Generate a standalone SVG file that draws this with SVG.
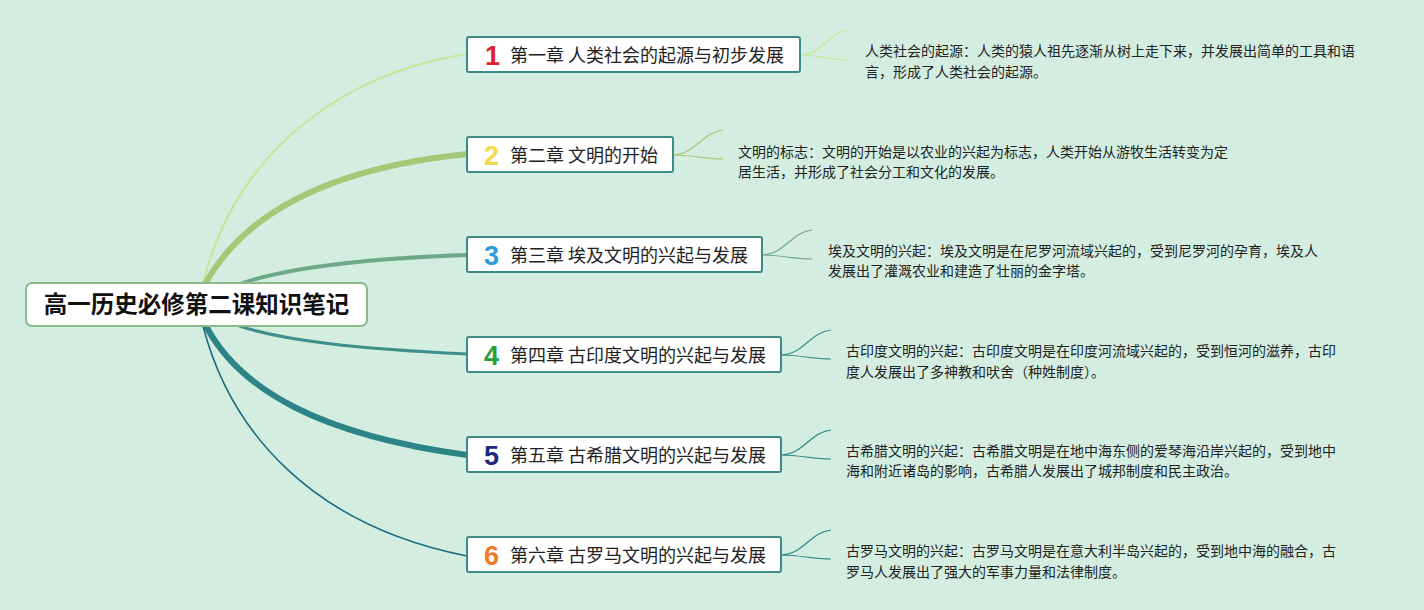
<svg xmlns="http://www.w3.org/2000/svg" width="1424" height="610" viewBox="0 0 1424 610">
<defs>
<style>
.bg{fill:#d3eee0}
.root{fill:#ffffff;stroke:#8cb98a;stroke-width:2}
.rt{font-family:"Noto Sans CJK SC","Liberation Sans",sans-serif;font-size:23.5px;font-weight:bold;fill:#111}
.box{fill:#ffffff;stroke:#3d8b89;stroke-width:2}
.num{font-family:"Liberation Sans","DejaVu Sans",sans-serif;font-size:27px;font-weight:900}
.ct{font-family:"Noto Sans CJK SC",sans-serif;font-size:18px;fill:#222}
.nt{font-family:"Noto Sans CJK SC",sans-serif;font-size:14px;fill:#222}
.br{fill:none}
</style>
</defs>
<rect class="bg" x="0" y="0" width="1424" height="610"/>
<g id="connectors">
<path class="br" d="M203,283 C238,145 350,72 467,54" stroke="#c6e69c" stroke-width="2.2"/>
<path class="br" d="M205,284 C245,212 330,168 467,154" stroke="#a2c878" stroke-width="6"/>
<path class="br" d="M215,295 C265,266 380,258 467,255" stroke="#6ea889" stroke-width="4"/>
<path class="br" d="M215,316 C262,342 380,350 467,354" stroke="#3e8e8c" stroke-width="3"/>
<path class="br" d="M206,326 C240,390 320,435 467,455" stroke="#2d8487" stroke-width="6"/>
<path class="br" d="M203,326 C230,430 310,525 467,556" stroke="#1d6d80" stroke-width="1.6"/>
<path class="br" d="M800,55 C822,55 828,32 849,30 M800,55 C820,55 830,60 849,60" stroke="#c6e69c" stroke-width="1.2"/>
<path class="br" d="M673,155 C695,155 702,132 723,130 M673,155 C693,155 703,159 723,159" stroke="#a2c878" stroke-width="1.2"/>
<path class="br" d="M762,255 C784,255 791,232 812,230 M762,255 C782,255 792,259 812,259" stroke="#6ea889" stroke-width="1.2"/>
<path class="br" d="M781,355 C803,355 810,332 831,330 M781,355 C801,355 811,359 831,359" stroke="#3e8e8c" stroke-width="1.2"/>
<path class="br" d="M781,455 C803,455 810,432 831,430 M781,455 C801,455 811,459 831,459" stroke="#2d8487" stroke-width="1.2"/>
<path class="br" d="M781,555 C803,555 810,532 831,530 M781,555 C801,555 811,559 831,559" stroke="#2d8487" stroke-width="1.2"/>
</g>
<g id="root">
<rect class="root" x="26" y="283" width="341" height="43" rx="6"/>
<text class="rt" x="196.5" y="313" text-anchor="middle">高一历史必修第二课知识笔记</text>
</g>
<g id="ch1">
<rect class="box" x="467" y="37" width="333" height="35" rx="2"/>
<text class="num" x="485" y="65" fill="#e0222e">1</text>
<text class="ct" x="510" y="62">第一章 人类社会的起源与初步发展</text>
</g>
<g id="ch2">
<rect class="box" x="467" y="137" width="206" height="35" rx="2"/>
<text class="num" x="484" y="165" fill="#f4d84c">2</text>
<text class="ct" x="510" y="162">第二章 文明的开始</text>
</g>
<g id="ch3">
<rect class="box" x="467" y="237" width="295" height="35" rx="2"/>
<text class="num" x="484" y="265" fill="#2d9bd8">3</text>
<text class="ct" x="510" y="262">第三章 埃及文明的兴起与发展</text>
</g>
<g id="ch4">
<rect class="box" x="467" y="337" width="314" height="35" rx="2"/>
<text class="num" x="484" y="365" fill="#27a03a">4</text>
<text class="ct" x="510" y="362">第四章 古印度文明的兴起与发展</text>
</g>
<g id="ch5">
<rect class="box" x="467" y="437" width="314" height="35" rx="2"/>
<text class="num" x="484" y="465" fill="#1e2a7c">5</text>
<text class="ct" x="510" y="462">第五章 古希腊文明的兴起与发展</text>
</g>
<g id="ch6">
<rect class="box" x="467" y="537" width="314" height="35" rx="2"/>
<text class="num" x="484" y="565" fill="#f07a2a">6</text>
<text class="ct" x="510" y="562">第六章 古罗马文明的兴起与发展</text>
</g>
<g id="note1">
<text class="nt" x="865" y="56">人类社会的起源：人类的猿人祖先逐渐从树上走下来，并发展出简单的工具和语</text>
<text class="nt" x="865" y="77">言，形成了人类社会的起源。</text>
</g>
<g id="note2">
<text class="nt" x="738" y="157">文明的标志：文明的开始是以农业的兴起为标志，人类开始从游牧生活转变为定</text>
<text class="nt" x="738" y="177">居生活，并形成了社会分工和文化的发展。</text>
</g>
<g id="note3">
<text class="nt" x="828" y="256">埃及文明的兴起：埃及文明是在尼罗河流域兴起的，受到尼罗河的孕育，埃及人</text>
<text class="nt" x="828" y="276">发展出了灌溉农业和建造了壮丽的金字塔。</text>
</g>
<g id="note4">
<text class="nt" x="846" y="356">古印度文明的兴起：古印度文明是在印度河流域兴起的，受到恒河的滋养，古印</text>
<text class="nt" x="846" y="377">度人发展出了多神教和吠舍（种姓制度）。</text>
</g>
<g id="note5">
<text class="nt" x="846" y="456">古希腊文明的兴起：古希腊文明是在地中海东侧的爱琴海沿岸兴起的，受到地中</text>
<text class="nt" x="846" y="476">海和附近诸岛的影响，古希腊人发展出了城邦制度和民主政治。</text>
</g>
<g id="note6">
<text class="nt" x="846" y="556">古罗马文明的兴起：古罗马文明是在意大利半岛兴起的，受到地中海的融合，古</text>
<text class="nt" x="846" y="577">罗马人发展出了强大的军事力量和法律制度。</text>
</g>
</svg>
